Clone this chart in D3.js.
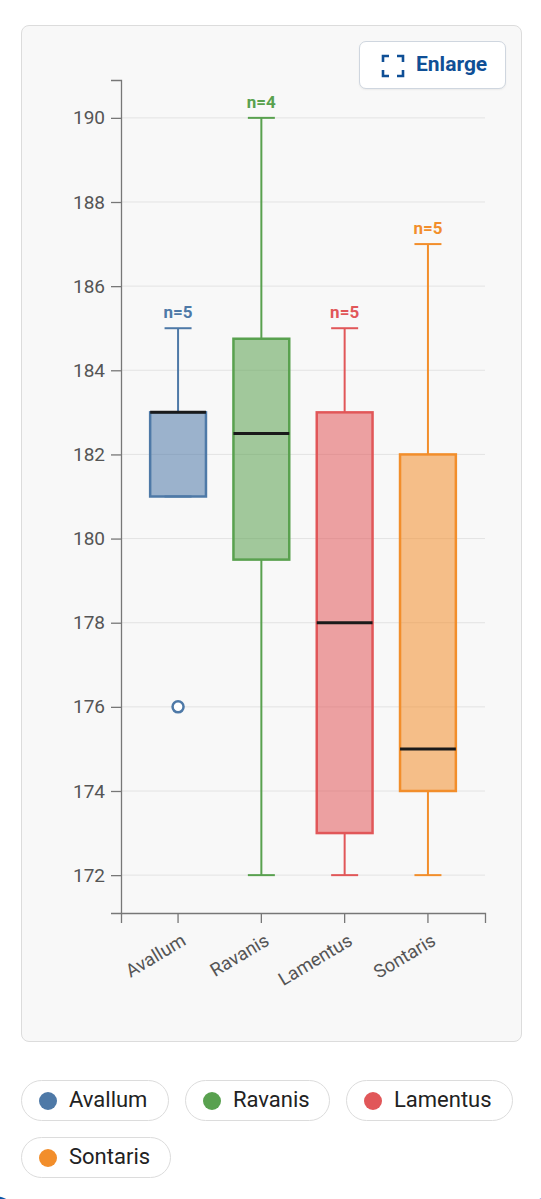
<!DOCTYPE html>
<html><head><meta charset="utf-8">
<script src="https://cdn.jsdelivr.net/npm/d3@7"></script>
<style>
html,body{margin:0;padding:0;background:#fff;width:541px;height:1199px;overflow:hidden;font-family:Roboto,"Noto Sans",sans-serif;}
#card{position:absolute;left:21px;top:25px;width:501px;height:1017px;background:#f8f8f8;border:1px solid #dcdcdc;border-radius:8px;box-sizing:border-box;}
#btn{position:absolute;left:359px;top:41px;width:147px;height:48px;background:#fff;border:1px solid #cfd6df;border-radius:7px;box-sizing:border-box;box-shadow:0 1px 2px rgba(0,0,0,0.06);}
#btn span{position:absolute;left:56px;top:10px;font-size:21px;font-weight:700;color:#0f4f96;}
#chart{position:absolute;left:0;top:0;}
.pill{position:absolute;height:41px;border:1px solid #dcdcdc;border-radius:21px;background:#fff;box-sizing:border-box;}
.pill .dot{position:absolute;left:17px;top:11px;width:18px;height:18px;border-radius:50%;}
.pill .lbl{position:absolute;left:47px;top:6px;font-size:22px;color:#222;}
</style></head>
<body>
<div id="card"></div>
<div id="btn"><svg width="24" height="24" style="position:absolute;left:21px;top:12px"><path d="M2 8V2h6M16 2h6v6M22 16v6h-6M8 22H2v-6" fill="none" stroke="#0f4f96" stroke-width="2.6"/></svg><span>Enlarge</span></div>
<svg id="chart" width="541" height="1199"></svg>
<div id="legend"></div>
<script>
const categories = ["Avallum","Ravanis","Lamentus","Sontaris"];
const colors = ["#4e79a7","#59a14f","#e15759","#f28e2b"];
const avallum = [176,181,183,183,185];
const ravanis = [172,182,183,190];
const lamentus = [172,173,178,183,185];
const sontaris = [172,174,175,182,187];
const seriesValues = [avallum, ravanis, lamentus, sontaris];
const yTicks = [172,174,176,178,180,182,184,186,188,190];

const svg = d3.select("#chart");
const x = d3.scaleBand().domain(categories).range([121,485]).paddingInner(0.33).paddingOuter(0.35);
const y = d3.scaleLinear().domain([171.1,190.9]).range([913,80]);

// grid
svg.append("g").selectAll("line").data(yTicks).join("line")
  .attr("x1",121).attr("x2",485).attr("y1",d=>y(d)).attr("y2",d=>y(d))
  .attr("stroke","#e3e3e3").attr("stroke-width",1);

const yAxis = svg.append("g").attr("transform","translate(121,0)")
  .call(d3.axisLeft(y).tickValues(yTicks).tickSize(10).tickPadding(6).tickSizeOuter(10));
yAxis.selectAll("text").attr("font-size",19).attr("fill","#555").attr("font-family","Roboto, sans-serif");
yAxis.selectAll("line,path").attr("stroke","#777").attr("stroke-width",1.3);

const xAxis = svg.append("g").attr("transform","translate(0,913)")
  .call(d3.axisBottom(x).tickSize(10).tickSizeOuter(10));
xAxis.selectAll("line,path").attr("stroke","#777").attr("stroke-width",1.3);
xAxis.selectAll("text").attr("font-size",18.5).attr("fill","#555").attr("font-family","Roboto, sans-serif")
  .attr("text-anchor","end").attr("x",0).attr("y",0).attr("dy",0)
  .attr("transform","translate(9,31) rotate(-31)");

const stats = seriesValues.map((vals,i)=>{
  const s = vals.slice().sort(d3.ascending);
  const q1 = d3.quantile(s,0.25), med = d3.quantile(s,0.5), q3 = d3.quantile(s,0.75);
  const iqr = q3-q1;
  const lo = d3.min(s.filter(v=>v>=q1-1.5*iqr)), hi = d3.max(s.filter(v=>v<=q3+1.5*iqr));
  const out = s.filter(v=>v<lo||v>hi);
  return {cat:categories[i], color:colors[i], q1, med, q3, lo, hi, out, n:s.length};
});

const bw = x.bandwidth();
const capW = 27;
const g = svg.append("g").selectAll("g").data(stats).join("g");
g.append("line").attr("x1",d=>x(d.cat)+bw/2).attr("x2",d=>x(d.cat)+bw/2)
  .attr("y1",d=>y(d.hi)).attr("y2",d=>y(d.q3)).attr("stroke",d=>d.color).attr("stroke-width",2);
g.append("line").attr("x1",d=>x(d.cat)+bw/2).attr("x2",d=>x(d.cat)+bw/2)
  .attr("y1",d=>y(d.q1)).attr("y2",d=>y(d.lo)).attr("stroke",d=>d.color).attr("stroke-width",2);
g.append("line").attr("x1",d=>x(d.cat)+bw/2-capW/2).attr("x2",d=>x(d.cat)+bw/2+capW/2)
  .attr("y1",d=>y(d.hi)).attr("y2",d=>y(d.hi)).attr("stroke",d=>d.color).attr("stroke-width",2);
g.append("line").attr("x1",d=>x(d.cat)+bw/2-capW/2).attr("x2",d=>x(d.cat)+bw/2+capW/2)
  .attr("y1",d=>y(d.lo)).attr("y2",d=>y(d.lo)).attr("stroke",d=>d.color).attr("stroke-width",2);
g.append("rect").attr("x",d=>x(d.cat)).attr("width",bw)
  .attr("y",d=>y(d.q3)).attr("height",d=>y(d.q1)-y(d.q3))
  .attr("fill",d=>d.color).attr("fill-opacity",0.55)
  .attr("stroke",d=>d.color).attr("stroke-width",2.5);
g.append("line").attr("x1",d=>x(d.cat)).attr("x2",d=>x(d.cat)+bw)
  .attr("y1",d=>y(d.med)).attr("y2",d=>y(d.med)).attr("stroke","#1a1a1a").attr("stroke-width",3);
g.selectAll("circle").data(d=>d.out.map(v=>({v,d}))).join("circle")
  .attr("cx",o=>x(o.d.cat)+bw/2).attr("cy",o=>y(o.v)).attr("r",5.5)
  .attr("fill","#fff").attr("stroke",o=>o.d.color).attr("stroke-width",2.5);
g.append("text").attr("x",d=>x(d.cat)+bw/2).attr("y",d=>y(d.hi)-10)
  .attr("text-anchor","middle").attr("font-size",17).attr("font-weight",700)
  .attr("fill",d=>d.color).attr("font-family","Roboto, sans-serif").text(d=>"n="+d.n);

// legend
const pills = [{l:21,t:1080,w:148},{l:185,t:1080,w:145},{l:346,t:1080,w:167},{l:21,t:1137,w:150}];
const leg = d3.select("#legend").selectAll("div").data(categories).join("div").attr("class","pill")
  .style("left",(d,i)=>pills[i].l+"px").style("top",(d,i)=>pills[i].t+"px").style("width",(d,i)=>pills[i].w+"px");
leg.append("div").attr("class","dot").style("background",(d,i)=>colors[i]);
leg.append("div").attr("class","lbl").text(d=>d);

// decorative partial circles at bottom
svg.append("circle").attr("cx",553).attr("cy",1245).attr("r",48).attr("fill","#2648e0");
svg.append("circle").attr("cx",553).attr("cy",1245).attr("r",33).attr("fill","none").attr("stroke","#fff").attr("stroke-width",3);
svg.append("circle").attr("cx",-6).attr("cy",1222).attr("r",26).attr("fill","#0a56a8");
</script>
</body></html>
